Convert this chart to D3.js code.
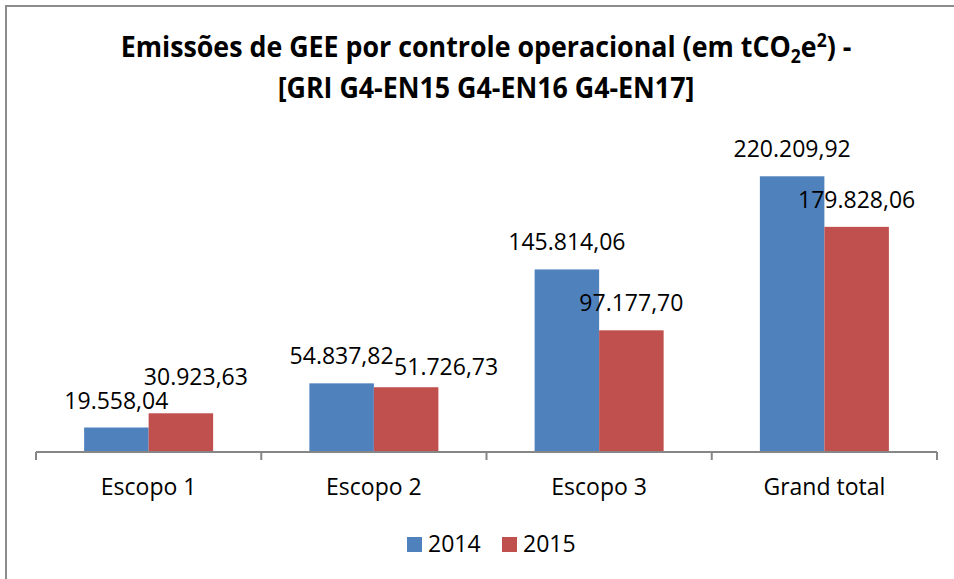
<!DOCTYPE html>
<html>
<head>
<meta charset="utf-8">
<script src="https://cdn.jsdelivr.net/npm/d3@7"></script>
<style>
  html, body { margin: 0; padding: 0; background: #fff; }
  svg { display: block; }
  text { font-family: "Open Sans", "Lato", sans-serif; fill: #000; }
</style>
</head>
<body>
<svg id="chart" width="954" height="579"></svg>
<script>
// ---- data ----
const categories = ["Escopo 1", "Escopo 2", "Escopo 3", "Grand total"];
const seriesNames = ["2014", "2015"];
const values2014 = [19558.04, 54837.82, 145814.06, 220209.92];
const values2015 = [30923.63, 51726.73, 97177.70, 179828.06];
const seriesColors = ["#4F81BD", "#C0504D"];
// label nudges (style only) [series][category] -> [dx, dy]
const labelNudge = [
  [[0, 0], [0, 0], [0, 0], [0, 0]],
  [[15, -9], [40, 7], [0, 0], [0, 0]]
];

const svg = d3.select("#chart");
const W = 954, H = 579;

// chart border (extends beyond right/bottom)
svg.append("rect")
  .attr("x", 6).attr("y", 6)
  .attr("width", W + 10).attr("height", H + 10)
  .attr("fill", "none").attr("stroke", "#8c8c8c").attr("stroke-width", 2);

const fmt = v => {
  const s = d3.format(",.2f")(v);
  return s.replace(/,/g, "#").replace(".", ",").replace(/#/g, ".");
};

const x0 = d3.scaleBand().domain(categories).range([36, 937]).paddingInner(0).paddingOuter(0);
const x1 = d3.scaleBand().domain(seriesNames).range([0, x0.bandwidth()]).paddingInner(0).paddingOuter(0.746);
const y = d3.scaleLinear().domain([0, 250000]).range([452, 139]);

const data = seriesNames.map((s, i) => ({
  name: s,
  color: seriesColors[i],
  values: (i === 0 ? values2014 : values2015).map((v, j) => ({ cat: categories[j], v, si: i, ci: j }))
}));

// bars
const g = svg.append("g");
data.forEach(s => {
  g.selectAll(null).data(s.values).enter().append("rect")
    .attr("x", d => x0(d.cat) + x1(s.name))
    .attr("y", d => y(d.v))
    .attr("width", x1.bandwidth())
    .attr("height", d => y(0) - y(d.v))
    .attr("fill", s.color);
});

// x axis
const axis = d3.axisBottom(x0).tickSize(0).tickFormat("");
const ax = svg.append("g").attr("transform", `translate(0,${y(0)})`).call(axis);
ax.select(".domain").attr("stroke", "#868686").attr("stroke-width", 2).attr("d", `M36,0H937`);
const bounds = categories.map(c => x0(c)).concat([x0(categories[categories.length - 1]) + x0.bandwidth()]);
ax.selectAll(".bnd").data(bounds).enter().append("line")
  .attr("x1", d => d).attr("x2", d => d).attr("y1", 0).attr("y2", 8)
  .attr("stroke", "#868686").attr("stroke-width", 2);

// category labels
svg.selectAll(".cat").data(categories).enter().append("text")
  .attr("x", d => x0(d) + x0.bandwidth() / 2)
  .attr("y", 495)
  .attr("text-anchor", "middle")
  .attr("font-size", 23)
  .text(d => d);

// data labels
data.forEach(s => {
  svg.selectAll(null).data(s.values).enter().append("text")
    .attr("x", d => x0(d.cat) + x1(s.name) + x1.bandwidth() / 2 + labelNudge[d.si][d.ci][0])
    .attr("y", d => y(d.v) - 19 + labelNudge[d.si][d.ci][1])
    .attr("text-anchor", "middle")
    .attr("font-size", 23)
    .text(d => fmt(d.v));
});

// legend
const legX = [407, 502];
const leg = svg.selectAll(".leg").data(data).enter().append("g");
leg.append("rect")
  .attr("x", (d, i) => legX[i]).attr("y", 537)
  .attr("width", 15).attr("height", 15)
  .attr("fill", d => d.color);
leg.append("text")
  .attr("x", (d, i) => legX[i] + 21).attr("y", 552)
  .attr("font-size", 23)
  .text(d => d.name);

// title (horizontally condensed via transform)
const tg1 = svg.append("g");
const t1 = tg1.append("text")
  .attr("x", 0).attr("y", 0)
  .attr("text-anchor", "middle")
  .attr("font-size", 29).attr("font-weight", "bold");
t1.append("tspan").text("Emissões de GEE por controle operacional (em tCO");
t1.append("tspan").attr("font-size", 19).attr("dy", 6).text("2");
t1.append("tspan").attr("dy", -6).text("e");
t1.append("tspan").attr("font-size", 19).attr("dy", -10).text("2");
t1.append("tspan").attr("dy", 10).text(") -");

const tg2 = svg.append("g");
const t2 = tg2.append("text")
  .attr("x", 0).attr("y", 0)
  .attr("text-anchor", "middle")
  .attr("font-size", 29).attr("font-weight", "bold")
  .text("[GRI G4-EN15 G4-EN16 G4-EN17]");

const n1 = t1.node().getComputedTextLength();
const k = Math.min(1, 731 / n1);
tg1.attr("transform", `translate(486,57) scale(${k},1)`);
tg2.attr("transform", `translate(486,98) scale(${k},1)`);
</script>
</body>
</html>
